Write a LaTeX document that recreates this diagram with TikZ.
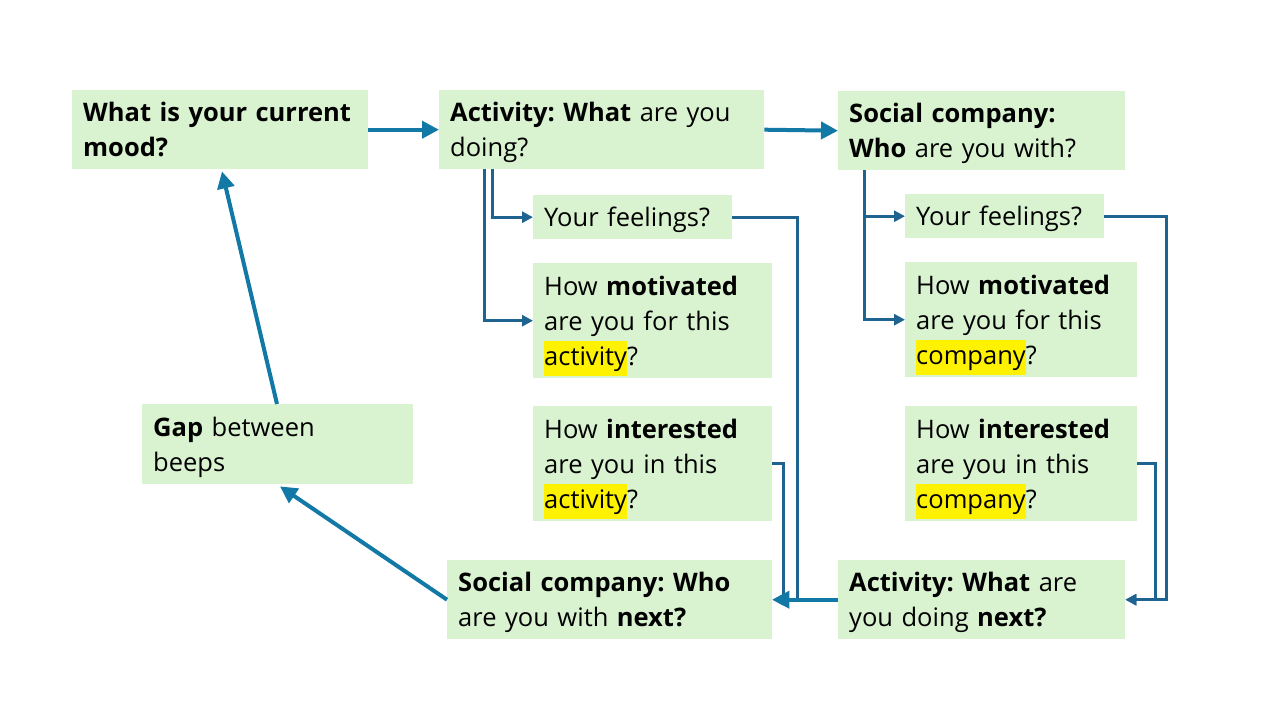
\documentclass[tikz,border=0pt]{standalone}
\usepackage{fontspec}
\setmainfont{Open Sans}
\usetikzlibrary{arrows.meta}
\definecolor{boxgreen}{HTML}{D9F2D0}
\definecolor{thickblue}{HTML}{1278A6}
\definecolor{thinblue}{HTML}{1F6391}
\newcommand\hlt[1]{{\setlength{\fboxsep}{0pt}\colorbox{yellow}{\strut #1}}}
\tikzset{
  box/.style={fill=boxgreen, inner xsep=11pt, inner ysep=0pt, anchor=north west,
    align=left, font=\fontsize{25.5}{35}\selectfont\frenchspacing,
    execute at begin node={\rule{0pt}{29.5pt}}, execute at end node=\strut},
  thickarr/.style={draw=thickblue, line width=4pt, -{Triangle[length=17pt,width=17pt]}},
  thinarr/.style={draw=thinblue, line width=3pt, -{Triangle[length=11pt,width=11pt]}},
  thinline/.style={draw=thinblue, line width=3pt},
}
\begin{document}
\begin{tikzpicture}[x=1pt,y=-1pt]
\useasboundingbox (0,0) rectangle (1280,720);
\node[box, text width=274pt, minimum height=79pt] (mood) at (72,90) {\textbf{What is your current}\\\textbf{mood?}};
\node[box, text width=303pt, minimum height=79pt] (act) at (439,90) {\textbf{Activity: What} are you\\doing?};
\node[box, text width=265pt, minimum height=79pt] (soc) at (838,91) {\textbf{Social company:}\\\textbf{Who} are you with?};
\node[box, text width=177pt, minimum height=44pt] (feel1) at (533,195) {Your feelings?};
\node[box, text width=217pt, minimum height=115pt] (mot1) at (533,263) {How \textbf{motivated}\\are you for this\\\hlt{activity}?};
\node[box, text width=217pt, minimum height=115pt] (int1) at (533,406) {How \textbf{interested}\\are you in this\\\hlt{activity}?};
\node[box, text width=177pt, minimum height=44pt] (feel2) at (905,194) {Your feelings?};
\node[box, text width=210pt, minimum height=115pt] (mot2) at (905,262) {How \textbf{motivated}\\are you for this\\\hlt{company}?};
\node[box, text width=210pt, minimum height=115pt] (int2) at (905,406) {How \textbf{interested}\\are you in this\\\hlt{company}?};
\node[box, text width=303pt, minimum height=79pt] (socnext) at (447,560) {\textbf{Social company: Who}\\are you with \textbf{next?}};
\node[box, text width=265pt, minimum height=79pt] (actnext) at (838,560) {\textbf{Activity: What} are\\you doing \textbf{next?}};
\node[box, text width=249pt, minimum height=80pt] (gap) at (142,404) {\textbf{Gap} between\\beeps};

\draw[thickarr] (mood.east) -- (act.west);
\draw[thickarr] (act.east) -- (soc.west);
\draw[thinarr] ([xshift=45pt]act.south west) |- (mot1.west);
\draw[thinarr] ([xshift=53pt]act.south west) |- (feel1.west);
\draw[thinarr] ([xshift=26pt]soc.south west) |- (mot2.west);
\draw[thinarr] ([xshift=26pt]soc.south west) |- (feel2.west);
\draw[thinline] (feel1.east) -| ([xshift=-41pt]actnext.west);
\draw[thinarr] (int1.east) -- ++(11,0) |- (socnext.east);
\draw[thickarr] (actnext.west) -- (socnext.east);
\draw[thinarr] (feel2.east) -| ([xshift=41pt]actnext.east) -- (actnext.east);
\draw[thinarr] (int2.east) -- ++(18,0) |- (actnext.east);
\draw[thickarr] (socnext.west) -- ([xshift=138pt,yshift=-2pt]gap.south west);
\draw[thickarr] ([xshift=135pt]gap.north west) -- ([xshift=150pt,yshift=-2pt]mood.south west);
\end{tikzpicture}
\end{document}
